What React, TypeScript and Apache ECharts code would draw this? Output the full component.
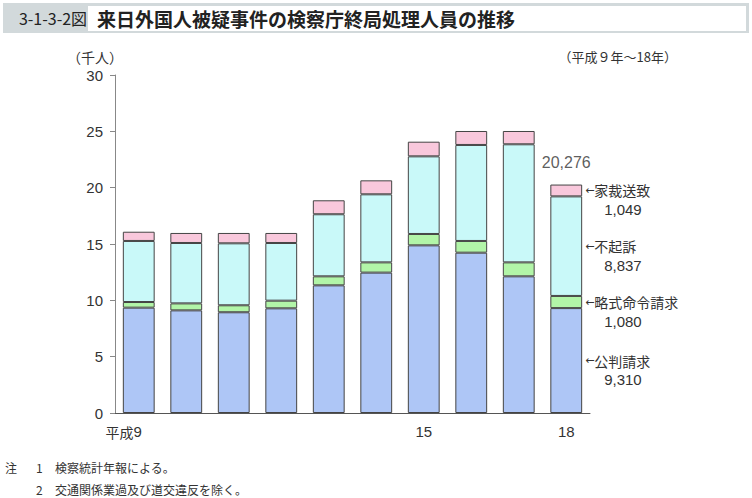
import React, { useEffect, useRef } from "react";
import * as echarts from "echarts";

// 単位：千人
const categories = ["平成9", "10", "11", "12", "13", "14", "15", "16", "17", "18"];
const xTickLabels = ["平成9", "", "", "", "", "", "15", "", "", "18"];
const kohan = [9.35, 9.11, 8.94, 9.29, 11.33, 12.46, 14.88, 14.23, 12.13, 9.31];
const ryakushiki = [0.5, 0.62, 0.62, 0.68, 0.8, 0.91, 1.01, 1.04, 1.24, 1.08];
const fukiso = [5.42, 5.36, 5.5, 5.12, 5.51, 6.04, 6.89, 8.52, 10.48, 8.837];
const kasai = [0.82, 0.89, 0.92, 0.89, 1.24, 1.24, 1.3, 1.24, 1.18, 1.049];
const seriesNames = ["公判請求", "略式命令請求", "不起訴", "家裁送致"];
const seriesColors = ["#aec6f6", "#b2f5a8", "#c9f9f9", "#f9c8dc"];
const totalLabel = "20,276";

const CJK = '"Noto Sans CJK JP", sans-serif';
const SANS = '"Liberation Sans", Arial, sans-serif';

const fmt = (v: number) => Math.round(v * 1000).toLocaleString("en-US");

export default function App() {
  const ref = useRef<HTMLDivElement>(null);
  useEffect(() => {
    if (!ref.current) return;
    const chart = echarts.init(ref.current, null, { renderer: "svg" });
    const lastIdx = categories.length - 1;
    const dataSets = [kohan, ryakushiki, fukiso, kasai];
    const totals = categories.map((_, i) =>
      dataSets.reduce((s, d) => s + d[i], 0)
    );
    const barSeries = dataSets.map((d, k) => ({
      name: seriesNames[k],
      type: "bar",
      stack: "total",
      barWidth: "67%",
      data: d,
      itemStyle: { color: seriesColors[k], borderColor: "#444", borderWidth: 1 },
      label: {
        show: true,
        position: "right",
        distance: 3,
        offset: [0, 9.5],
        formatter: (p: any) =>
          p.dataIndex === lastIdx
            ? `{ar|←}{nm|${seriesNames[k]}}\n{sp|}{num|${fmt(p.value)}}`
            : "",
        rich: {
          ar: { fontFamily: '"DejaVu Sans", sans-serif', fontSize: 11, color: "#333", lineHeight: 19 },
          nm: { fontFamily: CJK, fontSize: 14, color: "#333", lineHeight: 19 },
          sp: { width: 19, lineHeight: 19 },
          num: { fontFamily: SANS, fontSize: 15, color: "#333", lineHeight: 19 },
        },
      },
    }));
    chart.setOption({
      animation: false,
      grid: { left: 115, right: 162, top: 75, bottom: 85 },
      xAxis: {
        type: "category",
        data: categories,
        axisLine: { lineStyle: { color: "#555", width: 1 } },
        axisTick: { show: false },
        axisLabel: {
          interval: 0,
          margin: 11,
          formatter: (_v: string, i: number) =>
            i === 0 ? "{era|平成}{n|9}{sp|}" : xTickLabels[i],
          fontFamily: SANS,
          fontSize: 15,
          color: "#333",
          rich: {
            era: { fontFamily: CJK, fontSize: 14, color: "#333" },
            n: { fontFamily: SANS, fontSize: 15, color: "#333" },
            sp: { width: 30 },
          },
        },
      },
      yAxis: {
        type: "value",
        min: 0,
        max: 30,
        interval: 5,
        axisLine: { show: true, lineStyle: { color: "#888", width: 1 } },
        axisTick: { show: true, length: 5, lineStyle: { color: "#888" } },
        splitLine: { show: false },
        axisLabel: { margin: 12, fontFamily: SANS, fontSize: 15, color: "#333" },
      },
      series: [
        ...barSeries,
        {
          type: "scatter",
          symbolSize: 0,
          data: totals.map((t, i) => (i === lastIdx ? t : null)),
          label: {
            show: true,
            position: "top",
            distance: 14,
            formatter: () => totalLabel,
            fontFamily: SANS,
            fontSize: 16,
            color: "#333",
          },
        },
      ],
      graphic: [
        { type: "rect", shape: { x: 3, y: 3, width: 746, height: 30 }, style: { fill: "#d2d9db" } },
        { type: "rect", shape: { x: 88, y: 6, width: 658, height: 25 }, style: { fill: "#ffffff" } },
        {
          type: "text", x: 53, y: 18,
          style: { text: "3-1-3-2図", fontFamily: CJK, fontSize: 16, fill: "#222", align: "center", verticalAlign: "middle" },
        },
        {
          type: "text", x: 97, y: 18,
          style: { text: "来日外国人被疑事件の検察庁終局処理人員の推移", fontFamily: CJK, fontSize: 19, fontWeight: "bold", fill: "#222", align: "left", verticalAlign: "middle" },
        },
        {
          type: "text", x: 95, y: 57,
          style: { text: "（千人）", fontFamily: CJK, fontSize: 14, fill: "#333", align: "center", verticalAlign: "middle" },
        },
        {
          type: "text", x: 677, y: 56,
          style: { text: "（平成９年～18年）", fontFamily: CJK, fontSize: 13, fill: "#333", align: "right", verticalAlign: "middle" },
        },
        {
          type: "text", x: 5, y: 467,
          style: { text: "注", fontFamily: CJK, fontSize: 12, fill: "#333", verticalAlign: "middle" },
        },
        {
          type: "text", x: 36, y: 467,
          style: { text: "1", fontFamily: CJK, fontSize: 12, fill: "#333", verticalAlign: "middle" },
        },
        {
          type: "text", x: 55, y: 467,
          style: { text: "検察統計年報による。", fontFamily: CJK, fontSize: 12, fill: "#333", verticalAlign: "middle" },
        },
        {
          type: "text", x: 36, y: 489,
          style: { text: "2", fontFamily: CJK, fontSize: 12, fill: "#333", verticalAlign: "middle" },
        },
        {
          type: "text", x: 55, y: 489,
          style: { text: "交通関係業過及び道交違反を除く。", fontFamily: CJK, fontSize: 12, fill: "#333", verticalAlign: "middle" },
        },
      ],
    });
    return () => chart.dispose();
  }, []);
  return (
    <div
      ref={ref}
      style={{ position: "fixed", left: 0, top: 0, width: 752, height: 498, background: "#fff" }}
    />
  );
}
